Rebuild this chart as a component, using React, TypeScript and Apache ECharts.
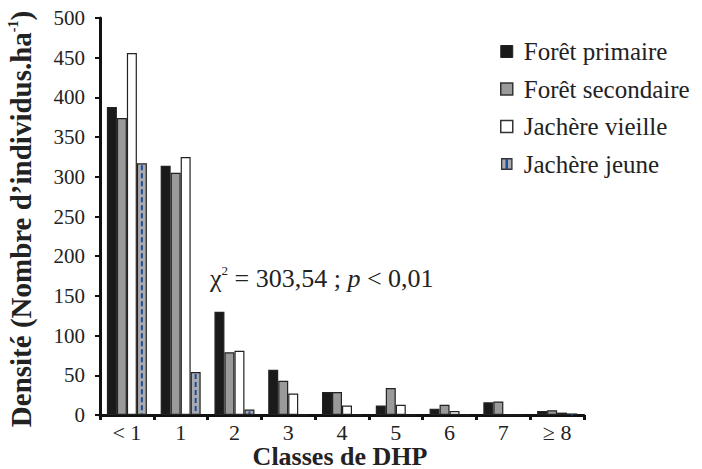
import React, { useEffect, useRef } from "react";
import * as echarts from "echarts";

const categories = ["< 1", "1", "2", "3", "4", "5", "6", "7", "≥ 8"];
const foretPrimaire = [388, 314, 130, 57, 29, 12, 8, 16, 5];
const foretSecondaire = [374, 305, 79, 43, 29, 34, 13, 17, 6];
const jachereVieille = [456, 325, 81, 27, 12, 13, 5, 0, 3];
const jachereJeune = [317, 54, 7, 0, 0, 0, 0, 0, 2];
const seriesNames = ["Forêt primaire", "Forêt secondaire", "Jachère vieille", "Jachère jeune"];
const yTicks = { min: 0, max: 500, interval: 50 };

const FONT = "Liberation Serif";
const BAR_W = 10;
const BLUE = "#1f4e9c";
const JEUNE_FILL = "#a9abb0";

const jeuneIconSvg =
  `<svg xmlns="http://www.w3.org/2000/svg" width="12" height="12"><rect x="0.75" y="0.75" width="10.5" height="10.5" fill="${JEUNE_FILL}" stroke="#333" stroke-width="1.5"/><line x1="6" y1="1" x2="6" y2="11" stroke="${BLUE}" stroke-width="2.5"/></svg>`;
const jeuneIcon = "image://data:image/svg+xml;charset=utf-8," + encodeURIComponent(jeuneIconSvg);

export default function App() {
  const ref = useRef<HTMLDivElement>(null);
  useEffect(() => {
    if (!ref.current) return;
    const chart = echarts.init(ref.current, null, { renderer: "svg" });
    const barBase = {
      type: "bar" as const,
      barWidth: BAR_W,
      barGap: "0%",
      itemStyle: { borderColor: "#222", borderWidth: 1.2 },
    };
    chart.setOption({
      animation: false,
      backgroundColor: "#ffffff",
      textStyle: { fontFamily: FONT },
      grid: { left: 100, right: 118, top: 18, bottom: 54, containLabel: false },
      legend: {
        orient: "vertical",
        left: 495,
        top: 34,
        itemWidth: 12,
        itemHeight: 12,
        itemGap: 12.5,
        textStyle: { fontFamily: FONT, fontWeight: "normal", fontSize: 25, color: "#222", lineHeight: 24, padding: [0, 0, 0, 6] },
        data: [
          { name: seriesNames[0], icon: "rect", itemStyle: { color: "#1a1a1a", borderColor: "#222", borderWidth: 1 } },
          { name: seriesNames[1], icon: "rect", itemStyle: { color: "#9a9a9a", borderColor: "#333", borderWidth: 1.5 } },
          { name: seriesNames[2], icon: "rect", itemStyle: { color: "#ffffff", borderColor: "#333", borderWidth: 1.5 } },
          { name: seriesNames[3], icon: jeuneIcon },
        ],
      },
      xAxis: {
        type: "category",
        data: categories,
        boundaryGap: true,
        axisLine: { lineStyle: { color: "#111", width: 3 } },
        axisTick: { show: true, alignWithLabel: false, length: 5, lineStyle: { color: "#111", width: 3 } },
        axisLabel: { fontFamily: FONT, fontWeight: "normal", fontSize: 22, lineHeight: 20, color: "#222", margin: 7 },
        splitLine: { show: false },
      },
      yAxis: {
        type: "value",
        min: yTicks.min,
        max: yTicks.max,
        interval: yTicks.interval,
        axisLine: { show: true, lineStyle: { color: "#111", width: 3 } },
        axisTick: { show: true, length: 5, lineStyle: { color: "#111", width: 2 } },
        axisLabel: { fontFamily: FONT, fontWeight: "normal", fontSize: 21, color: "#222", margin: 15 },
        splitLine: { show: false },
      },
      graphic: [
        {
          type: "text",
          x: 21,
          y: 219,
          rotation: Math.PI / 2,
          style: {
            text: "{a|Densité (Nombre d’individus.ha}{s|-1}{a|)}",
            align: "center",
            verticalAlign: "middle",
            rich: {
              a: { fontFamily: FONT, fontSize: 29, fontWeight: "bold", fill: "#222", lineHeight: 30 },
              s: { fontFamily: FONT, fontSize: 14, fontWeight: "bold", fill: "#222", lineHeight: 30, verticalAlign: "top" },
            },
          },
        },
        {
          type: "text",
          x: 340,
          y: 456,
          style: {
            text: "Classes de DHP",
            align: "center",
            verticalAlign: "middle",
            fontFamily: FONT,
            fontSize: 26,
            lineHeight: 24,
            fontWeight: "bold",
            fill: "#222",
          },
        },
        {
          type: "text",
          x: 210,
          y: 278,
          style: {
            text: "{a|χ}{s|2}{a| = 303,54 ; }{i|p}{a| < 0,01}",
            verticalAlign: "middle",
            rich: {
              a: { fontFamily: FONT, fontWeight: "normal", fontSize: 26, fill: "#222", lineHeight: 28 },
              i: { fontFamily: FONT, fontWeight: "normal", fontSize: 26, fontStyle: "italic", fill: "#222", lineHeight: 28 },
              s: { fontFamily: FONT, fontWeight: "normal", fontSize: 13, fill: "#222", lineHeight: 28, verticalAlign: "top" },
            },
          },
        },
      ],
      series: [
        { ...barBase, name: seriesNames[0], data: foretPrimaire, itemStyle: { ...barBase.itemStyle, color: "#1a1a1a" } },
        { ...barBase, name: seriesNames[1], data: foretSecondaire, itemStyle: { ...barBase.itemStyle, color: "#9a9a9a" } },
        { ...barBase, name: seriesNames[2], data: jachereVieille, itemStyle: { ...barBase.itemStyle, color: "#ffffff" } },
        { ...barBase, name: seriesNames[3], data: jachereJeune, itemStyle: { ...barBase.itemStyle, color: JEUNE_FILL } },
        {
          type: "custom",
          name: "jeune-dash",
          data: jachereJeune.map((v, i) => [i, v]),
          encode: { x: 0, y: 1 },
          z: 5,
          renderItem: (params: any, api: any) => {
            const v = api.value(1);
            if (!v) return null;
            const idx = api.value(0);
            const top = api.coord([idx, v]);
            const base = api.coord([idx, 0]);
            const x = top[0] + 1.5 * BAR_W;
            return {
              type: "line",
              shape: { x1: x, y1: top[1] + 2, x2: x, y2: base[1] - 1 },
              style: { stroke: BLUE, lineWidth: 2, lineDash: [5, 3] },
            };
          },
        },
      ],
    });
    return () => chart.dispose();
  }, []);
  return (
    <div
      ref={ref}
      style={{ position: "fixed", left: 0, top: 0, width: 702, height: 469, background: "#fff" }}
    />
  );
}
